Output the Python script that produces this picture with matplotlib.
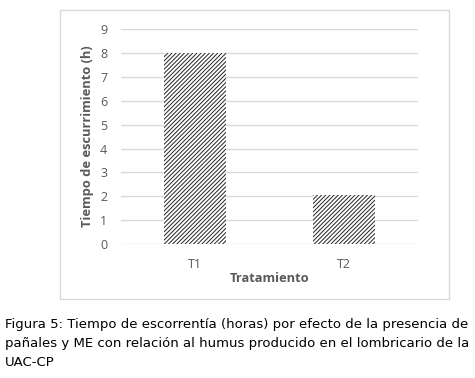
import matplotlib
matplotlib.use("Agg")
import matplotlib.pyplot as plt
from matplotlib.patches import Rectangle

categories = ["T1", "T2"]
values = [8.0, 2.05]
yticks = [0, 1, 2, 3, 4, 5, 6, 7, 8, 9]

plt.rcParams['hatch.linewidth'] = 0.7
fig = plt.figure(figsize=(4.75, 3.78), dpi=100)
fig.patch.set_facecolor("white")

# chart border
fig.patches.append(Rectangle((60/475, 1-299/378), 389/475, 289/378, transform=fig.transFigure,
                             fill=False, edgecolor="#d9d9d9", linewidth=1.0))

ax = fig.add_axes([121/475, 1-244/378, 297/475, (244-29.3)/378])
x = list(range(len(categories)))
ax.bar(x, values, width=0.42, color="white", edgecolor="#222222", hatch="////////", linewidth=0)
ax.set_xlim(-0.5, 1.5)
ax.set_ylim(0, 9)
ax.set_yticks(yticks)
ax.set_xticks(x)
ax.set_xticklabels(categories)
ax.yaxis.grid(True, color="#d9d9d9", linewidth=1.0)
ax.set_axisbelow(True)
for s in ax.spines.values():
    s.set_visible(False)
ax.tick_params(length=0, colors="#595959", labelsize=9, pad=10)
ax.tick_params(axis='x', pad=10)
ax.set_ylabel("Tiempo de escurrimiento (h)", fontsize=9.3, fontweight="bold", color="#595959", labelpad=4)
ax.set_xlabel("Tratamiento", fontsize=9.3, fontweight="bold", color="#595959", labelpad=1)
for lab in ax.get_xticklabels() + ax.get_yticklabels():
    lab.set_family("Open Sans")
ax.xaxis.label.set_family("Open Sans")
ax.yaxis.label.set_family("Open Sans")

caption = ("Figura 5: Tiempo de escorrentía (horas) por efecto de la presencia de\n"
           "pañales y ME con relación al humus producido en el lombricario de la\n"
           "UAC-CP")
fig.text(5/475, 1-318/378, caption, ha="left", va="top", fontsize=9.55,
         family="DejaVu Sans", color="black", linespacing=1.6)

fig.savefig("out.png", dpi=100)
